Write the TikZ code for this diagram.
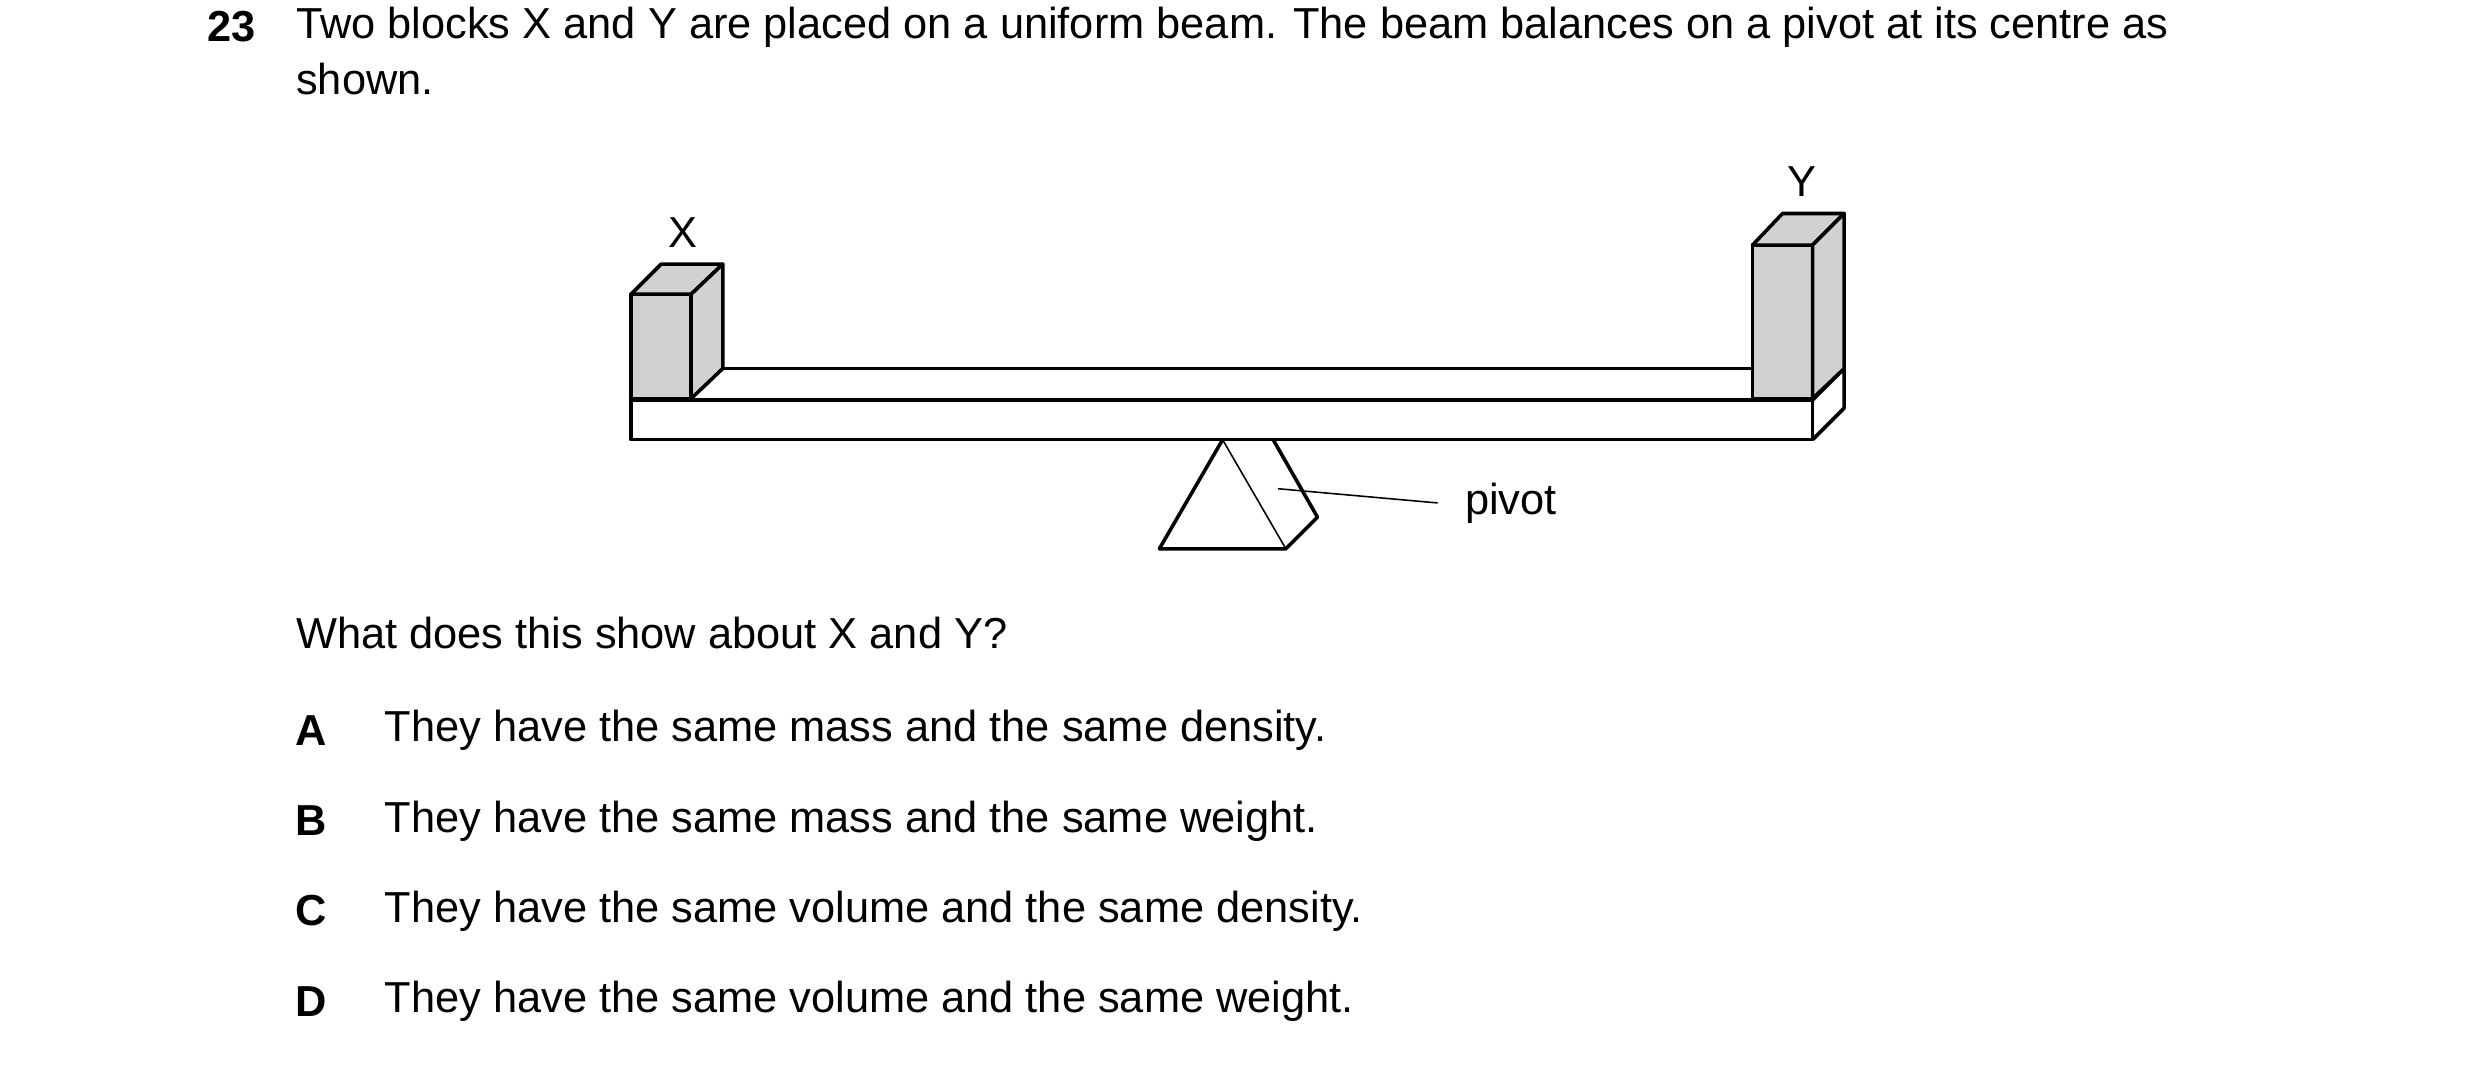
\documentclass[tikz,border=0pt]{standalone}
\usepackage{fontspec}
\setmainfont{Liberation Sans}
\usetikzlibrary{positioning}
\tikzset{
  txt/.style={anchor=west,inner sep=0pt,font=\fontsize{19.5}{23}\selectfont},
  lbl/.style={inner sep=0pt,font=\fontsize{19.5}{23}\selectfont},
  edge/.style={line width=1.6pt,line join=round},
  thin/.style={line width=0.7pt},
  block/.style={edge,fill=black!18}
}
\begin{document}
\begin{tikzpicture}[x=0.025cm,y=-0.025cm]
\useasboundingbox (0,0) rectangle (1568,674);
% question text
\node[lbl,anchor=west,font=\fontsize{19.5}{23}\selectfont\bfseries] (num) at (131,17) {23};
\node[txt] (q1) at (187,17) {Two blocks X and Y are placed on a uniform beam. The beam balances on a pivot at its centre as};
\node[txt] (q2) at (187,50) {shown.};
% beam
\draw[edge] (437,233) -- (1108,233);
\draw[edge] (399,253) rectangle (1146,278);
\draw[edge] (1146,278) -- (1166,258) -- (1166,233) -- (1146,253);
\draw[thin] (437,253) -- (1108,253);
% block X
\draw[block] (399,186) rectangle (437,252);
\draw[block] (399,186) -- (418,167) -- (457,167) -- (437,186) -- cycle;
\draw[block] (437,186) -- (457,167) -- (457,233) -- (437,252) -- cycle;
\node[lbl] (labX) at (432,147) {X};
% block Y
\draw[block] (1108,155) rectangle (1146,252);
\draw[block] (1108,155) -- (1127,135) -- (1166,135) -- (1146,155) -- cycle;
\draw[block] (1146,155) -- (1166,135) -- (1166,233) -- (1146,252) -- cycle;
\node[lbl] (labY) at (1139,115) {Y};
% pivot
\draw[edge] (773,278) -- (733,347) -- (813,347) -- (833,327) -- (805,278);
\draw[thin] (773,278) -- (813,347);
\coordinate (pv) at (808,309);
\node[lbl,anchor=west] (pivot) at (926,318) {pivot};
\draw[thin] (pv) -- (909,318);
% options
\node[txt] (ask) at (187,400) {What does this show about X and Y?};
\foreach \l/\t/\y in {A/They have the same mass and the same density./462,
                      B/They have the same mass and the same weight./519,
                      C/They have the same volume and the same density./576,
                      D/They have the same volume and the same weight./633}{
  \node[lbl,font=\fontsize{19.5}{23}\selectfont\bfseries] (opt\l) at (197,\y) {\l};
  \node[txt] (ans\l) at (243,\y) {\t};
}
\end{tikzpicture}
\end{document}
